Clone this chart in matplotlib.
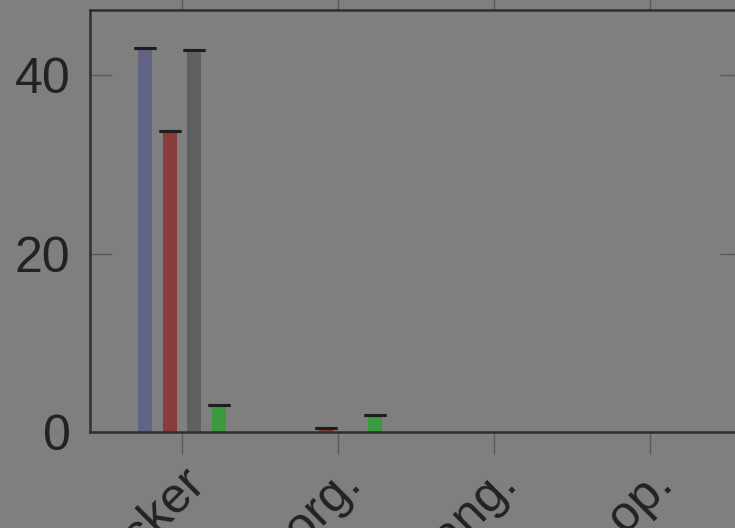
import numpy as np
import matplotlib
matplotlib.use("Agg")
import matplotlib.pyplot as plt

# ---- data ----
categories = ["Issue tracker", "Code org.", "Prog. lang.", "Dev. op."]
series_names = ["A", "B", "C", "D"]
series_colors = ["#636386", "#8a3c3c", "#606060", "#3b9a3f"]
values = [
    [43.1, 0.0, 0.0, 0.0],   # purple
    [33.7, 0.45, 0.0, 0.0],  # red
    [42.8, 0.0, 0.0, 0.0],   # gray
    [3.0, 1.9, 0.0, 0.0],    # green
]
errors = [
    [0.0, 0.0, 0.0, 0.0],
    [0.0, 0.0, 0.0, 0.0],
    [0.0, 0.0, 0.0, 0.0],
    [0.0, 0.0, 0.0, 0.0],
]
y_ticks = [0, 20, 40]

plt.rcParams["font.family"] = ["Liberation Sans", "DejaVu Sans"]

BG = "#7f7f7f"
fig = plt.figure(figsize=(7.35, 5.28), dpi=100, facecolor=BG)
ax = fig.add_axes([0.1224, 0.1818, 0.887, 0.7992], facecolor=BG)

x = np.arange(len(categories))
step = 0.157
width = 0.088
for i, (vals, errs, col) in enumerate(zip(values, errors, series_colors)):
    off = (i - 1.5) * step
    vals = np.asarray(vals)
    errs = np.asarray(errs)
    ax.bar(x + off, vals, width=width, color=col, label=series_names[i], zorder=2)
    # caps only where a bar is actually there
    m = vals > 0
    ax.errorbar((x + off)[m], vals[m], yerr=[np.zeros(m.sum()), errs[m]], fmt="none",
                ecolor="#1e1e1e", elinewidth=1.5, capsize=8, capthick=2.2, zorder=3)

ax.set_xlim(-0.59, 3.59)
ax.set_ylim(0, 47.3)
ax.set_yticks(y_ticks)
ax.set_xticks(x)
ax.set_xticklabels(categories, rotation=45, ha="right", va="top",
                   rotation_mode="anchor")

for sp in ax.spines.values():
    sp.set_color("#2e2e2e")
    sp.set_linewidth(1.8)

ax.tick_params(axis="y", direction="in", length=16, width=1, color="#5a5a5a",
               left=True, right=True, labelsize=36, pad=14, labelcolor="#222222")
ax.tick_params(axis="x", direction="out", length=16, width=1, color="#5a5a5a",
               bottom=True, top=True, labelsize=36, pad=5, labelcolor="#222222")

fig.savefig("out.png", dpi=100, facecolor=BG)
